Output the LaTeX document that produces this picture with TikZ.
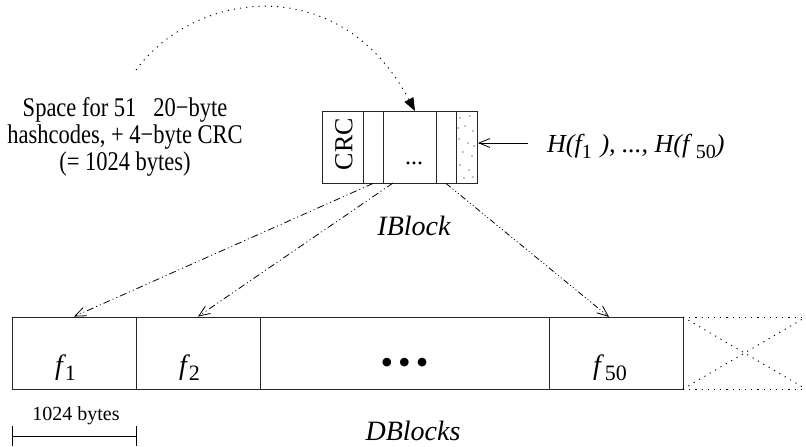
\documentclass[tikz,border=0pt]{standalone}
\usepackage{fontspec}
\setmainfont{Liberation Serif}
\usetikzlibrary{arrows.meta}
\newcommand\tallbox[1]{\scalebox{1}[1.2]{#1}}
\begin{document}
\begin{tikzpicture}[x=1pt,y=-1pt,
  cell/.style={draw=black!85, line width=0.9pt, inner sep=0pt, minimum height=72pt},
  dcell/.style={cell},
  ptrhead/.style={-{Straight Barb[length=11pt,width=9pt,line width=0.8pt]}},
  ddot/.style={line width=0.8pt, ptrhead, dash pattern=on 7pt off 3pt on 1pt off 3pt on 1pt off 3pt},
  dddot/.style={line width=0.8pt, ptrhead, dash pattern=on 6pt off 2.5pt on 1pt off 2.5pt on 1pt off 2.5pt on 1pt off 2.5pt},
  dotline/.style={line width=0.9pt, dash pattern=on 1.2pt off 5pt},
  lbl/.style={inner sep=0pt, anchor=base},
  big/.style={font=\fontsize{28}{28}\selectfont\itshape},
]
\useasboundingbox (0,0) rectangle (806,447);

% IBlock cells
\node[cell, minimum width=41pt] (crc) at (342.5,147) {};
\node[cell, minimum width=20pt] (c2) at (373,147) {};
\node[cell, minimum width=53pt] (c3) at (409.5,147) {};
\node[cell, minimum width=20pt] (c4) at (446,147) {};
\node[cell, minimum width=21pt] (c5) at (466.5,147) {};
\node[rotate=90, inner sep=0pt, font=\fontsize{26}{26}\selectfont] (crct) at (344,144) {CRC};
\node[lbl, font=\fontsize{24}{24}\selectfont] (idots) at (414,164) {...};
% stipple
\foreach \p in {(460,118),(470,116),(465,126),(473,131),(459,139),(468,143),(463,152),(472,156),(460,165),(469,170),(464,178),(473,177),(458,128),(474,146)}
  \fill[black] \p circle (0.6pt);

% DBlocks cells
\node[dcell, minimum width=124pt] (d1) at (74,353) {};
\node[dcell, minimum width=124pt] (d2) at (198,353) {};
\node[dcell, minimum width=289pt] (d3) at (404.5,353) {};
\node[dcell, minimum width=134pt] (d4) at (616,353) {};
\coordinate (xa) at (683,317);
\coordinate (xb) at (806,317);
\coordinate (xc) at (806,389);
\coordinate (xd) at (683,389);
\draw[dotline] (xa) -- (xb);
\draw[dotline] (xd) -- (xc);
\draw[dotline] (xa) -- (xc);
\draw[dotline] (xd) -- (xb);

\node[lbl, big, anchor=base west] (f1) at (55,374) {f\hspace{2pt}\raisebox{-6pt}{\upshape\fontsize{22}{22}\selectfont 1}};
\node[lbl, big, anchor=base west] (f2) at (179,374) {f\hspace{2pt}\raisebox{-6pt}{\upshape\fontsize{22}{22}\selectfont 2}};
\node[lbl, big, anchor=base west] (f50) at (593,374) {f\hspace{4pt}\raisebox{-6pt}{\upshape\fontsize{22}{22}\selectfont 50}};
\node[font=\fontsize{36}{36}\selectfont, inner sep=0pt] (bul) at (404.5,366) {\textbullet\hspace{5pt}\textbullet\hspace{5pt}\textbullet};

% labels
\node[lbl, big] (iblock) at (414,235) {IBlock};
\node[lbl, big] (dblocks) at (413,440) {DBlocks};
\node[inner sep=0pt, font=\fontsize{22.5}{22}\selectfont] (space) at (125,138)
  {\tallbox{\begin{tabular}{@{}c@{}}Space for 51\ \ \ 20−byte\\hashcodes, + 4−byte CRC\\(= 1024 bytes)\end{tabular}}};
\node[lbl, anchor=base west, font=\fontsize{26}{26}\selectfont\itshape] (hl) at (547,152)
  {H(f\raisebox{-6pt}{\upshape\fontsize{20}{20}\selectfont 1}\,\,), ..., H(f\ \raisebox{-6pt}{\upshape\fontsize{20}{20}\selectfont 50})};

% scale bar
\node[lbl, font=\fontsize{20}{20}\selectfont] (kb) at (76,420) {1024 bytes};
\coordinate (sa) at (12,436);
\coordinate (sb) at (136,436);
\draw[line width=0.9pt] (sa) -- (sb);
\draw[line width=0.9pt] ([yshift=-10pt]sa) -- ([yshift=10pt]sa);
\draw[line width=0.9pt] ([yshift=-10pt]sb) -- ([yshift=10pt]sb);

% pointers
\coordinate (s2) at (393,183);
\coordinate (t50) at (609,317);
\draw[ddot] (c2.south) -- (d1.north);
\draw[ddot] (s2) -- (d2.north);
\draw[dddot] (c4.south) -- (t50);

% H arrow
\coordinate (hs) at (528,143);
\coordinate (ht) at (478,143);
\draw[line width=0.8pt, ptrhead] (hs) -- (ht);

% curved arrow
\coordinate (cs) at (136,70);
\coordinate (ce) at (415,111);
\draw[dotline, -{Triangle[length=13pt,width=10pt]}] (cs) .. controls (195,-10) and (340,-30) .. (ce);
\end{tikzpicture}
\end{document}
